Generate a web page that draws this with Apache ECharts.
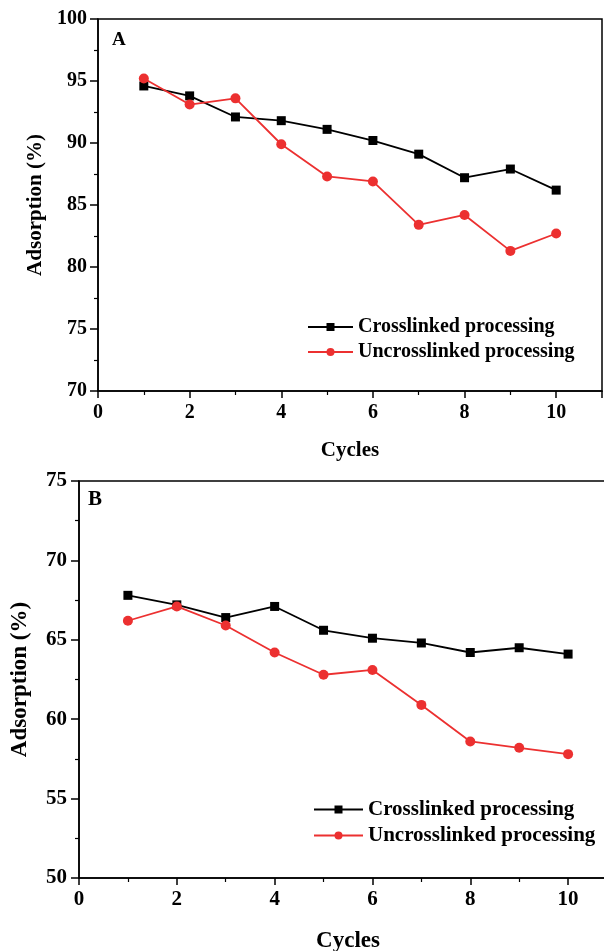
<!DOCTYPE html>
<html>
<head>
<meta charset="utf-8">
<script src="https://cdn.jsdelivr.net/npm/echarts@6/dist/echarts.min.js"></script>
<style>
  html, body { margin: 0; padding: 0; background: #fff; }
  #chart { width: 604px; height: 951px; }
</style>
</head>
<body>
<div id="chart"></div>
<script>
// Adsorption recovery over repeated cycles, panels A and B
const cycles = [1, 2, 3, 4, 5, 6, 7, 8, 9, 10];

const crosslinkedA   = [94.6, 93.8, 92.1, 91.8, 91.1, 90.2, 89.1, 87.2, 87.9, 86.2];
const uncrosslinkedA = [95.2, 93.1, 93.6, 89.9, 87.3, 86.9, 83.4, 84.2, 81.3, 82.7];

const crosslinkedB   = [67.8, 67.2, 66.4, 67.1, 65.6, 65.1, 64.8, 64.2, 64.5, 64.1];
const uncrosslinkedB = [66.2, 67.1, 65.9, 64.2, 62.8, 63.1, 60.9, 58.6, 58.2, 57.8];

const seriesNames = ['Crosslinked processing', 'Uncrosslinked processing'];
const FONT = '"Liberation Serif", "Times New Roman", serif';
const RED = '#ec3030';

const pairs = (ys) => cycles.map((c, i) => [c, ys[i]]);

function xAxisFor(gridIndex, fs, titleFs, gap, margin) {
  return {
    gridIndex, type: 'value', min: 0, max: 11, interval: 2,
    name: 'Cycles', nameLocation: 'middle', nameGap: gap,
    nameTextStyle: { fontFamily: FONT, fontWeight: 'bold', fontSize: titleFs, color: '#000' },
    axisLine: { show: true, onZero: false, lineStyle: { color: '#000', width: 1.5 } },
    axisTick: { show: true, inside: false, length: 7, lineStyle: { color: '#000', width: 1.5 } },
    minorTick: { show: true, splitNumber: 2, length: 4, lineStyle: { color: '#000', width: 1.2 } },
    axisLabel: {
      fontFamily: FONT, fontWeight: 'bold', fontSize: fs, color: '#000', margin,
      formatter: (v) => (v > 10 ? '' : String(v))
    },
    splitLine: { show: false }
  };
}

function yAxisFor(gridIndex, min, max, fs, titleFs, gap, margin) {
  return {
    gridIndex, type: 'value', min, max, interval: 5,
    name: 'Adsorption (%)', nameLocation: 'middle', nameGap: gap, nameRotate: 90,
    nameTextStyle: { fontFamily: FONT, fontWeight: 'bold', fontSize: titleFs, color: '#000' },
    axisLine: { show: true, onZero: false, lineStyle: { color: '#000', width: 1.5 } },
    axisTick: { show: true, inside: false, length: 8, lineStyle: { color: '#000', width: 1.5 } },
    minorTick: { show: true, splitNumber: 2, length: 4, lineStyle: { color: '#000', width: 1.2 } },
    axisLabel: { fontFamily: FONT, fontWeight: 'bold', fontSize: fs, color: '#000', margin },
    splitLine: { show: false }
  };
}

function lineSeries(name, data, idx, isCross, sq, dot) {
  return {
    name, type: 'line', data: pairs(data),
    xAxisIndex: idx, yAxisIndex: idx,
    symbol: isCross ? 'rect' : 'circle',
    symbolSize: isCross ? sq : dot,
    showSymbol: true,
    lineStyle: { color: isCross ? '#000' : RED, width: 1.8 },
    itemStyle: { color: isCross ? '#000' : RED },
    emphasis: { disabled: true },
    z: isCross ? 2 : 3
  };
}

function legendAt(left, top, fs, gap, w) {
  return {
    data: seriesNames, orient: 'vertical', left, top,
    itemWidth: w, itemHeight: 10, itemGap: gap,
    textStyle: { fontFamily: FONT, fontWeight: 'bold', fontSize: fs, color: '#000', padding: [0, 0, 0, 0] },
    selectedMode: false
  };
}

const chart = echarts.init(document.getElementById('chart'), null, { renderer: 'canvas' });

const frame = { show: true, borderColor: '#000', borderWidth: 1.5, backgroundColor: 'transparent', outerBoundsMode: 'none' };

chart.setOption({
  animation: false,
  backgroundColor: '#fff',
  grid: [
    Object.assign({ left: 98, top: 19, width: 504, height: 372 }, frame),
    // panel B is wider than the page; its right side is cut off
    Object.assign({ left: 79, top: 481, width: 538, height: 397 }, frame)
  ],
  xAxis: [xAxisFor(0, 20, 21, 49, 12), xAxisFor(1, 21, 23, 52, 11)],
  yAxis: [yAxisFor(0, 70, 100, 20, 21, 52, 11), yAxisFor(1, 50, 75, 21, 23, 47, 12)],
  legend: [legendAt(302, 312, 20, 5, 45), legendAt(308, 794, 21, 5, 49)],
  graphic: [
    { type: 'text', left: 112, top: 31, style: { text: 'A', font: 'bold 19px ' + FONT, fill: '#000' } },
    { type: 'text', left: 88, top: 489, style: { text: 'B', font: 'bold 21px ' + FONT, fill: '#000' } }
  ],
  series: [
    lineSeries(seriesNames[0], crosslinkedA, 0, true, 9, 10),
    lineSeries(seriesNames[1], uncrosslinkedA, 0, false, 9, 10),
    lineSeries(seriesNames[0], crosslinkedB, 1, true, 9, 10),
    lineSeries(seriesNames[1], uncrosslinkedB, 1, false, 9, 10)
  ]
});
</script>
</body>
</html>
